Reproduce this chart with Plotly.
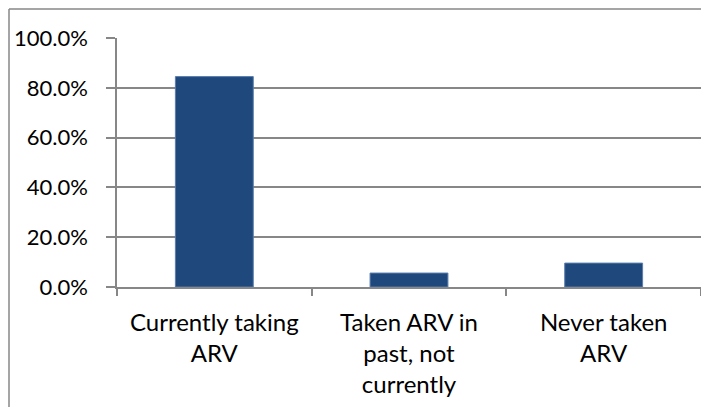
import plotly.graph_objects as go

categories = ["Currently taking<br>ARV", "Taken ARV in<br>past, not<br>currently", "Never taken<br>ARV"]
values = [0.845, 0.056, 0.096]
y_ticks = [0, 0.2, 0.4, 0.6, 0.8, 1.0]
y_tick_labels = ["0.0%", "20.0%", "40.0%", "60.0%", "80.0%", "100.0%"]

W, H = 701, 407
L, R, T, B = 117, 0, 38, 120
pw, ph = W - L - R, H - T - B

def px_to_paper_x(x):
    return (x - L) / pw

def px_to_paper_y(y):
    return (H - B - y) / ph

fig = go.Figure(go.Bar(x=categories, y=values,
                       marker=dict(color="#1F497D", line=dict(width=1, color="#5A7DAE")),
                       width=0.4))

axis_color = "#878787"
fig.update_layout(
    width=W, height=H,
    margin=dict(l=L, r=R, t=T, b=B),
    plot_bgcolor="white", paper_bgcolor="white",
    font=dict(family="Lato, Open Sans, sans-serif", size=22, color="black"),
    showlegend=False,
    xaxis=dict(showline=True, linecolor=axis_color, linewidth=1.5, ticks="outside",
               tickson="boundaries", ticklen=7, tickcolor=axis_color, tickwidth=1.5,
               showgrid=False, tickfont=dict(size=24), ticklabelstandoff=13),
    yaxis=dict(range=[0, 1.0], tickvals=y_ticks, ticktext=y_tick_labels,
               showline=True, linecolor=axis_color, linewidth=1.5, ticks="outside",
               ticklen=9, tickcolor=axis_color, tickwidth=1.5,
               showgrid=True, gridcolor=axis_color, gridwidth=1.5, zeroline=False,
               tickfont=dict(size=22), ticklabelstandoff=14),
    shapes=[
        dict(type="line", xref="paper", yref="paper", x0=px_to_paper_x(9), x1=px_to_paper_x(9),
             y0=px_to_paper_y(9), y1=px_to_paper_y(407), line=dict(color=axis_color, width=1.5)),
        dict(type="line", xref="paper", yref="paper", x0=px_to_paper_x(9), x1=px_to_paper_x(701),
             y0=px_to_paper_y(9), y1=px_to_paper_y(9), line=dict(color=axis_color, width=1.5)),
    ],
)

fig.write_html("out.html", config={"displayModeBar": False},
               post_script="document.body.style.margin='0';document.body.style.overflow='hidden';")
